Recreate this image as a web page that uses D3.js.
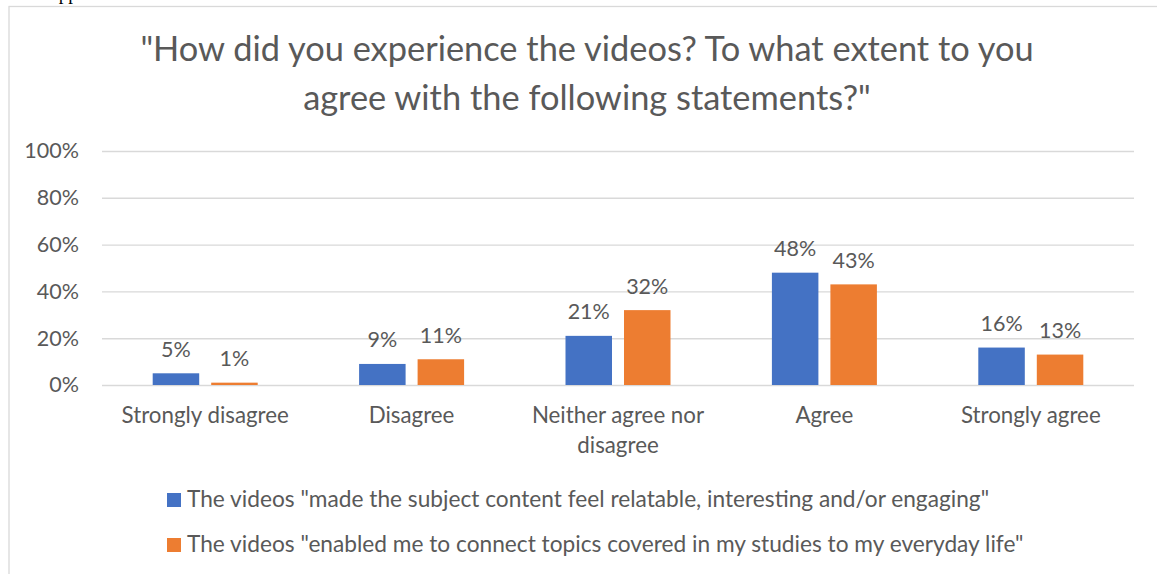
<!DOCTYPE html>
<html>
<head>
<meta charset="utf-8">
<script src="https://cdn.jsdelivr.net/npm/d3@7"></script>
<style>
  body { margin: 0; background: #fff; }
  svg { display: block; }
  .chart text { font-family: Lato, "Open Sans", sans-serif; fill: #595959; }
</style>
</head>
<body>
<svg id="chart" class="chart" width="1157" height="574"></svg>
<script>
// Survey answers per statement, as shares of respondents
const categories = ["Strongly disagree", "Disagree", "Neither agree nor disagree", "Agree", "Strongly agree"];
const seriesNames = [
  "The videos \"made the subject content feel relatable, interesting and/or engaging\"",
  "The videos \"enabled me to connect topics covered in my studies to my everyday life\""
];
const relatableValues = [0.05, 0.09, 0.21, 0.48, 0.16];
const connectValues   = [0.01, 0.11, 0.32, 0.43, 0.13];
const yTicks = [0, 0.2, 0.4, 0.6, 0.8, 1.0];
const titleLines = [
  "\"How did you experience the videos? To what extent to you",
  "agree with the following statements?\""
];
const seriesColors = ["#4472C4", "#ED7D31"];

const series = [relatableValues, connectValues];
const svg = d3.select("#chart");

// fragment of the surrounding document text, cut off by the page edge
svg.append("text")
  .attr("x", 14).attr("y", 0)
  .style("font-family", "'Liberation Serif', serif")
  .style("font-size", "19px")
  .style("fill", "#000")
  .text("the supp");

// chart frame
svg.append("rect")
  .attr("x", 9).attr("y", 6.5)
  .attr("width", 1170).attr("height", 600)
  .attr("fill", "none")
  .attr("stroke", "#D9D9D9")
  .attr("stroke-width", 1.3);

const plot = { left: 102, right: 1134, top: 151, bottom: 385 };
const labelSize = "22.3px";

const x0 = d3.scaleBand().domain(categories).range([plot.left, plot.right]).padding(0);
const groupWidth = 105;
const x1 = d3.scaleBand()
  .domain(d3.range(series.length))
  .range([(x0.bandwidth() - groupWidth) / 2, (x0.bandwidth() + groupWidth) / 2])
  .paddingInner(12 / 58.5)
  .paddingOuter(0);
const y = d3.scaleLinear().domain([0, 1]).range([plot.bottom, plot.top]);

// title
svg.append("g").selectAll("text")
  .data(titleLines)
  .join("text")
  .attr("x", 587)
  .attr("y", (d, i) => 61 + i * 49)
  .attr("text-anchor", "middle")
  .style("font-size", "34.4px")
  .text(d => d);

// gridlines and percentage ticks
const yAxis = d3.axisLeft(y)
  .tickValues(yTicks)
  .tickFormat(d3.format(".0%"))
  .tickSize(-(plot.right - plot.left))
  .tickPadding(23);
const gy = svg.append("g")
  .attr("transform", `translate(${plot.left},0)`)
  .call(yAxis);
gy.select(".domain").remove();
gy.selectAll(".tick line").attr("stroke", "#D9D9D9").attr("stroke-width", 1.4);
gy.selectAll(".tick text")
  .attr("fill", null)
  .style("font-size", "21.5px")
  .style("font-family", "Lato, 'Open Sans', sans-serif");

// bars
const groups = svg.append("g").selectAll("g")
  .data(categories)
  .join("g")
  .attr("transform", d => `translate(${x0(d)},0)`);

groups.selectAll("rect")
  .data((c, ci) => series.map((s, si) => ({ si, v: s[ci] })))
  .join("rect")
  .attr("x", d => x1(d.si))
  .attr("width", x1.bandwidth())
  .attr("y", d => y(d.v))
  .attr("height", d => y(0) - y(d.v))
  .attr("fill", d => seriesColors[d.si]);

// value labels
groups.selectAll("text.value")
  .data((c, ci) => series.map((s, si) => ({ si, v: s[ci] })))
  .join("text")
  .attr("class", "value")
  .attr("x", d => x1(d.si) + x1.bandwidth() / 2)
  .attr("y", d => y(d.v) - 16.5)
  .attr("text-anchor", "middle")
  .style("font-size", "21.5px")
  .text(d => d3.format(".0%")(d.v));

// category labels, wrapped to the band width
const maxLabelWidth = x0.bandwidth() - 16;
groups.each(function (c) {
  const t = d3.select(this).append("text")
    .attr("text-anchor", "middle")
    .style("font-size", labelSize);
  const words = c.split(" ");
  let line = [];
  let lineNo = 0;
  let tspan = t.append("tspan").attr("x", x0.bandwidth() / 2).attr("y", 423);
  words.forEach(w => {
    line.push(w);
    tspan.text(line.join(" "));
    if (tspan.node().getComputedTextLength() > maxLabelWidth && line.length > 1) {
      line.pop();
      tspan.text(line.join(" "));
      line = [w];
      lineNo += 1;
      tspan = t.append("tspan").attr("x", x0.bandwidth() / 2).attr("y", 423 + lineNo * 30).text(w);
    }
  });
});

// legend
const legend = svg.append("g").selectAll("g")
  .data(seriesNames)
  .join("g")
  .attr("transform", (d, i) => `translate(167,${493 + i * 45})`);
legend.append("rect")
  .attr("width", 14).attr("height", 14)
  .attr("fill", (d, i) => seriesColors[i]);
legend.append("text")
  .attr("x", 20).attr("y", 13.5)
  .style("font-size", "22.7px")
  .text(d => d);
</script>
</body>
</html>
